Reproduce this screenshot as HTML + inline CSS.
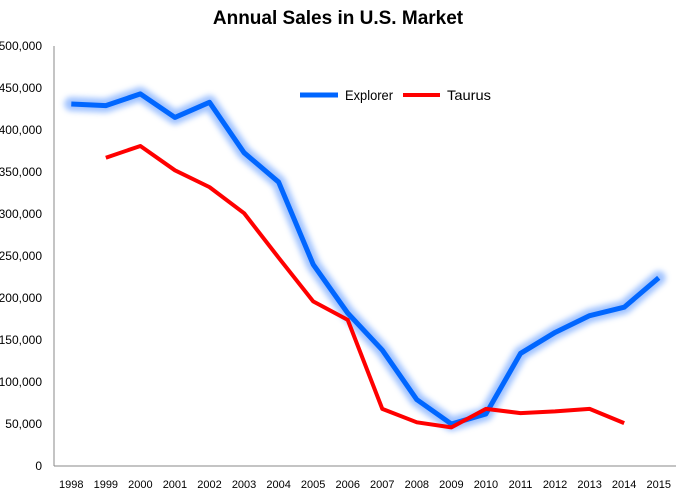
<!DOCTYPE html>
<html><head><meta charset="utf-8"><style>
body{margin:0;background:#fff;font-family:"Liberation Sans",Arial,sans-serif}
svg text{font-family:"Liberation Sans",Arial,sans-serif}
</style></head><body>
<svg id="chart" width="676" height="496" xmlns="http://www.w3.org/2000/svg">
<defs><filter id="glow" x="-20%" y="-20%" width="140%" height="140%"><feGaussianBlur stdDeviation="3"/></filter></defs>
<text x="338" y="24" text-anchor="middle" font-size="19" font-weight="bold" fill="#000">Annual Sales in U.S. Market</text>
<g id="axes"></g><g id="series"></g>
<g>
<line x1="300" y1="95" x2="338" y2="95" stroke="#8fb8ff" stroke-width="12" stroke-linecap="round" filter="url(#glow)" opacity="0.8"/>
<line x1="300" y1="95" x2="338" y2="95" stroke="#0066ff" stroke-width="5"/>
<text x="345" y="100" font-size="14" textLength="48" lengthAdjust="spacingAndGlyphs">Explorer</text>
<line x1="403" y1="95" x2="440" y2="95" stroke="#ff0000" stroke-width="4"/>
<text x="447" y="100" font-size="14" textLength="44" lengthAdjust="spacingAndGlyphs">Taurus</text>
</g>
</svg>
<script>
const years=["1998","1999","2000","2001","2002","2003","2004","2005","2006","2007","2008","2009","2010","2011","2012","2013","2014","2015"];
const explorer=[431000,429000,443000,415000,433000,373000,338000,240000,182000,138000,79000,50000,62000,134000,159000,179000,189000,224000];
const taurus=[null,367000,381000,352000,332000,301000,248000,196000,174000,68000,52000,46000,68000,63000,65000,68000,51000,null];
const yTicks=[0,50000,100000,150000,200000,250000,300000,350000,400000,450000,500000];
const NS="http://www.w3.org/2000/svg";
const x0=54,x1=676,y0=466,y1=46,yMax=500000;
const bw=(x1-x0)/years.length;
const X=i=>x0+bw*(i+0.5);
const Y=v=>y0-(v/yMax)*(y0-y1);
const axes=document.getElementById('axes'),ser=document.getElementById('series');
function mk(t,a,p){const e=document.createElementNS(NS,t);for(const k in a)e.setAttribute(k,a[k]);p.appendChild(e);return e;}
let ax=mk('line',{x1:x0,y1:y1,x2:x0,y2:y0,stroke:'#888','stroke-width':1},axes);


let bx=mk('line',{x1:x0,y1:y0,x2:x1,y2:y0,stroke:'#888','stroke-width':1},axes);


yTicks.forEach(v=>{const t=mk('text',{x:42,y:Y(v)+4,'text-anchor':'end','font-size':12},axes);t.textContent=v===0?'0':v.toLocaleString('en-US');

});
years.forEach((yr,i)=>{const t=mk('text',{x:X(i),y:488,'text-anchor':'middle','font-size':11},axes);t.textContent=yr;

});
function pts(arr){return arr.map((v,i)=>v==null?null:X(i)+','+Y(v)).filter(p=>p).join(' ');}
const g=mk('polyline',{points:pts(explorer),fill:'none',stroke:'#8fb8ff','stroke-width':14,'stroke-linejoin':'round','stroke-linecap':'round',filter:'url(#glow)',opacity:0.85},ser);


const e=mk('polyline',{points:pts(explorer),fill:'none',stroke:'#0066ff','stroke-width':5,'stroke-linejoin':'round'},ser);


const t=mk('polyline',{points:pts(taurus),fill:'none',stroke:'#ff0000','stroke-width':4,'stroke-linejoin':'round'},ser);


</script>
</body></html>
